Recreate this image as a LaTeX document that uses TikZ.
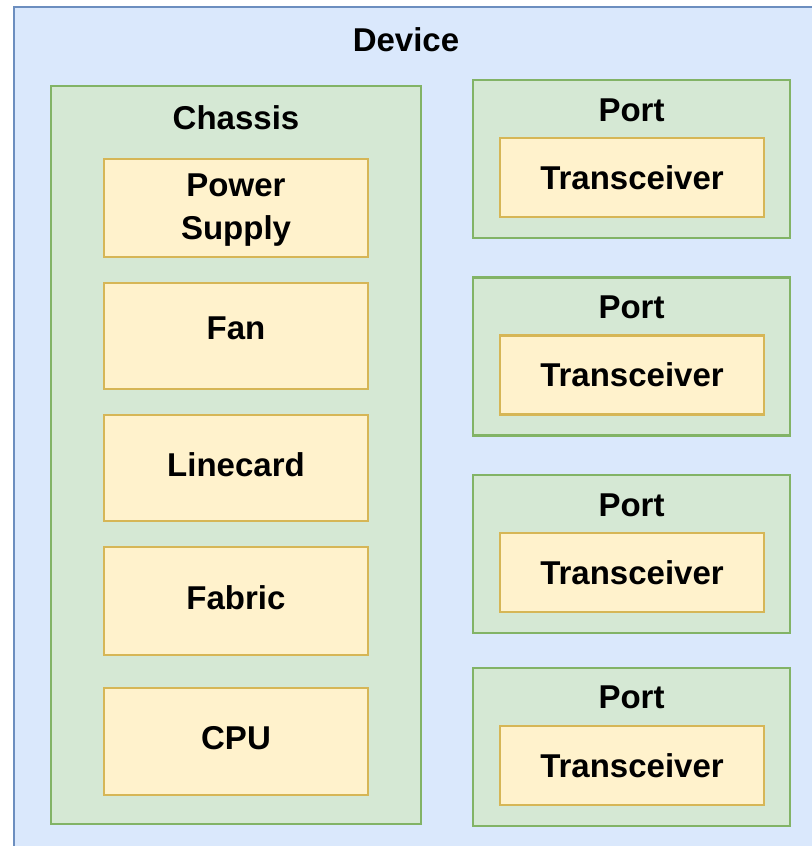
\documentclass[tikz,border=0pt]{standalone}
\usepackage{fontspec}
\setmainfont{Liberation Sans}
\definecolor{devfill}{HTML}{DAE8FC}
\definecolor{devline}{HTML}{6C8EBF}
\definecolor{grnfill}{HTML}{D5E8D4}
\definecolor{grnline}{HTML}{82B366}
\definecolor{ylwfill}{HTML}{FFF2CC}
\definecolor{ylwline}{HTML}{D6B656}
\tikzset{
  devbox/.style={draw=devline, fill=devfill, line width=1.4pt, inner sep=0pt},
  grnbox/.style={draw=grnline, fill=grnfill, line width=1.4pt, inner sep=0pt},
  ylwbox/.style={draw=ylwline, fill=ylwfill, line width=1.4pt, inner sep=0pt, align=center,
    font=\fontsize{16.5}{21.5}\selectfont\bfseries},
  lbl/.style={inner sep=0pt, font=\fontsize{16.5}{21.5}\selectfont\bfseries},
  leftbox/.style={ylwbox, minimum width=132pt},
  portbox/.style={grnbox, minimum width=158.5pt, minimum height=79pt},
  trxbox/.style={ylwbox, minimum width=132pt, minimum height=39.5pt},
}
\begin{document}
\begin{tikzpicture}[x=0.5pt,y=-0.5pt]
\useasboundingbox (0,0) rectangle (812,846);
\clip (0,0) rectangle (812,846);
\node[devbox, minimum width=408pt, minimum height=431.5pt] (device) at (422,438.5) {};
\node[lbl] (devlbl) at (406,40) {Device};
\node[grnbox, minimum width=185pt, minimum height=369pt] (chassis) at (236,455) {};
\node[lbl] (chlbl) at (236,118) {Chassis};
\node[leftbox, minimum height=49pt] (psu) at (236,208) {};
\node[lbl, align=center] (psulbl) at (236,210) {Power\\Supply};
\node[leftbox, minimum height=53pt] (fan) at (236,336) {};
\node[lbl] (fanlbl) at (236,328) {Fan};
\node[leftbox, minimum height=53pt] (lc) at (236,468) {};
\node[lbl] (lclbl) at (236,465) {Linecard};
\node[leftbox, minimum height=54pt] (fab) at (236,601) {};
\node[lbl] (fablbl) at (236,598) {Fabric};
\node[leftbox, minimum height=53.5pt] (cpu) at (236,741.5) {};
\node[lbl] (cpulbl) at (236,738) {CPU};
\foreach \i/\py/\ly/\ty in {1/159/110/177.5, 2/356.5/307/375, 3/554/505/572.5, 4/747/697/765.5}{
  \node[portbox] (port\i) at (631.5,\py) {};
  \node[lbl] (portlbl\i) at (631.5,\ly) {Port};
  \node[trxbox] (trx\i) at (632,\ty) {Transceiver};
}
\end{tikzpicture}
\end{document}
